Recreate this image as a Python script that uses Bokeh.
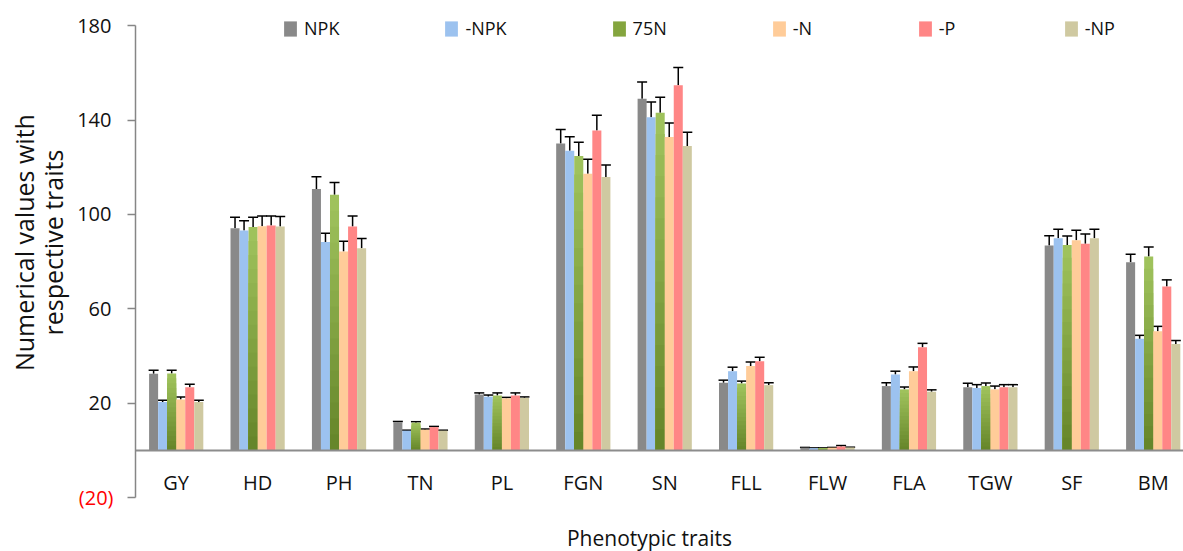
from bokeh.plotting import figure
from bokeh.models import (Range1d, FixedTicker, Label, Legend, LegendItem,
                          ColumnDataSource, Whisker, TeeHead)
from bokeh.embed import file_html
from bokeh.resources import INLINE

# ---------------- data ----------------
categories = ["GY", "HD", "PH", "TN", "PL", "FGN", "SN", "FLL", "FLW", "FLA", "TGW", "SF", "BM"]
series = ["NPK", "-NPK", "75N", "-N", "-P", "-NP"]

npk   = [32.5, 94.2, 110.8, 12.0, 23.7, 130.1, 149.1, 28.7, 1.2, 27.3, 26.8, 86.9, 79.8]
m_npk = [20.5, 93.2, 88.3, 8.4, 22.8, 127.0, 141.2, 33.6, 1.0, 32.2, 26.5, 89.9, 47.3]
n75   = [32.6, 94.7, 108.4, 11.8, 23.3, 124.8, 143.1, 28.4, 1.0, 25.9, 27.3, 87.1, 82.2]
m_n   = [21.6, 95.0, 84.3, 8.8, 22.1, 117.3, 132.8, 35.8, 1.2, 33.6, 25.9, 89.1, 50.5]
m_p   = [26.8, 95.3, 94.9, 9.9, 23.3, 135.6, 154.8, 37.8, 1.7, 43.7, 26.8, 87.6, 69.5]
m_np  = [20.5, 94.9, 85.7, 8.4, 22.3, 115.9, 129.0, 27.7, 1.3, 24.9, 26.8, 89.9, 45.1]

e_npk   = [1.5, 4.6, 5.2, 0.3, 0.7, 5.9, 7.0, 1.1, 0.1, 1.4, 1.7, 4.1, 3.4]
e_m_npk = [0.8, 4.2, 3.8, 0.2, 0.7, 5.9, 6.5, 1.7, 0.1, 1.4, 1.4, 3.9, 1.5]
e_n75   = [1.4, 4.1, 5.2, 0.4, 1.1, 5.8, 6.6, 1.0, 0.1, 1.0, 1.3, 3.8, 4.0]
e_m_n   = [1.1, 4.4, 4.4, 0.3, 0.4, 6.1, 6.0, 1.7, 0.1, 1.8, 1.4, 4.2, 2.1]
e_m_p   = [1.3, 4.1, 4.5, 0.3, 1.1, 6.5, 7.5, 1.7, 0.4, 1.7, 1.1, 4.1, 2.8]
e_m_np  = [0.8, 4.2, 4.1, 0.2, 0.4, 5.1, 5.8, 1.0, 0.1, 0.8, 1.1, 3.9, 1.5]

y_ticks = [-20, 20, 60, 100, 140, 180]

values = [npk, m_npk, n75, m_n, m_p, m_np]
errors = [e_npk, e_m_npk, e_n75, e_m_n, e_m_p, e_m_np]
colors = ["#898989", "#9CC2EF", "#84A53E", "#FFCC99", "#FF8686", "#CFC9A1"]

FONT = "Open Sans"
TXT = "#111111"
bar_w = 0.111
positions = list(range(len(categories)))

# frame fills the whole canvas; axes are placed at fixed locations inside it
p = figure(width=1183, height=551, output_backend="svg", toolbar_location=None,
           x_range=Range1d(-2.158, 12.372), y_range=Range1d(-42.8, 190.68),
           x_axis_location="below", y_axis_location="left")
p.min_border = 0
p.min_border_left = 0
p.min_border_right = 0
p.min_border_top = 0
p.min_border_bottom = 0
p.outline_line_color = None
p.grid.visible = False

yax = p.yaxis[0]
yax.fixed_location = -0.5
yax.bounds = (y_ticks[0], y_ticks[-1])
yax.ticker = FixedTicker(ticks=y_ticks)
yax.major_label_overrides = {-20: ""}
yax.axis_line_color = "#868686"
yax.axis_line_width = 1.5
yax.major_tick_line_color = "#868686"
yax.major_tick_line_width = 1.5
yax.major_tick_out = 8
yax.major_tick_in = 0
yax.minor_tick_line_color = None
yax.major_label_standoff = 16
yax.major_label_text_font = FONT
yax.major_label_text_font_size = "20px"
yax.major_label_text_color = TXT

xax = p.xaxis[0]
xax.fixed_location = 0
xax.bounds = (-0.5, len(categories) - 0.5)
xax.ticker = FixedTicker(ticks=positions)
xax.major_label_overrides = {i: c for i, c in zip(positions, categories)}
xax.axis_line_color = "#8C8C8C"
xax.axis_line_width = 2
xax.major_tick_out = 0
xax.major_tick_in = 0
xax.minor_tick_line_color = None
xax.major_label_standoff = 19
xax.major_label_text_font = FONT
xax.major_label_text_font_size = "20px"
xax.major_label_text_color = TXT

legend_items = []
for k, (name, vals, errs, col) in enumerate(zip(series, values, errors, colors)):
    xs = [c + (k - 2.5) * bar_w for c in positions]
    if name == "75N":
        # vertical gradient (dark bottom -> light top), drawn as nested bars
        nseg = 16
        c0 = (0x66, 0x86, 0x2A)
        c1 = (0x9F, 0xC2, 0x5C)
        for j in range(nseg - 1, -1, -1):
            t = j / (nseg - 1)
            cc = "#%02X%02X%02X" % tuple(int(round(a + (b - a) * t)) for a, b in zip(c0, c1))
            tops = [v * (j + 1) / nseg for v in vals]
            p.vbar(x=xs, width=bar_w, bottom=0, top=tops, fill_color=cc, line_color=None)
        r_leg = p.vbar(x=[xs[0]], width=bar_w, top=[0], bottom=[0], fill_color=col, line_color=None)
        legend_items.append(LegendItem(label=name, renderers=[r_leg]))
    else:
        r = p.vbar(x=xs, width=bar_w, top=vals, bottom=0, fill_color=col, line_color=None)
        legend_items.append(LegendItem(label=name, renderers=[r]))
    src = ColumnDataSource(dict(x=xs, lower=vals, upper=[v + e for v, e in zip(vals, errs)]))
    p.add_layout(Whisker(source=src, base="x", lower="lower", upper="upper", dimension="height",
                         line_color="black", line_width=1.5,
                         upper_head=TeeHead(size=10, line_color="black", line_width=1.5),
                         lower_head=None))

# red negative tick label (Excel style)
p.add_layout(Label(x=-0.77, y=-20, text="(20)", text_align="right", text_baseline="middle",
                   text_font=FONT, text_font_size="20px", text_color="#FF0000"))

# y axis title (two lines)
p.add_layout(Label(x=-1.875, y=88.1, text="Numerical values with", angle=1.5708,
                   text_align="center", text_baseline="middle",
                   text_font=FONT, text_font_size="25px", text_color=TXT))
p.add_layout(Label(x=-1.519, y=88.1, text="respective traits", angle=1.5708,
                   text_align="center", text_baseline="middle",
                   text_font=FONT, text_font_size="25px", text_color=TXT))

# x axis title
p.add_layout(Label(x=5.813, y=-36.9, text="Phenotypic traits", text_align="center",
                   text_baseline="middle", text_font=FONT, text_font_size="21px",
                   text_color=TXT))

legend = Legend(items=legend_items, orientation="horizontal", location=(282, 511),
                glyph_width=16, glyph_height=19, label_standoff=6, spacing=104,
                padding=0, margin=0, border_line_color=None, background_fill_alpha=0,
                label_text_font=FONT, label_text_font_size="18px", label_height=19,
                label_text_color=TXT)
p.add_layout(legend)

open("out.html", "w").write(file_html(p, INLINE))
